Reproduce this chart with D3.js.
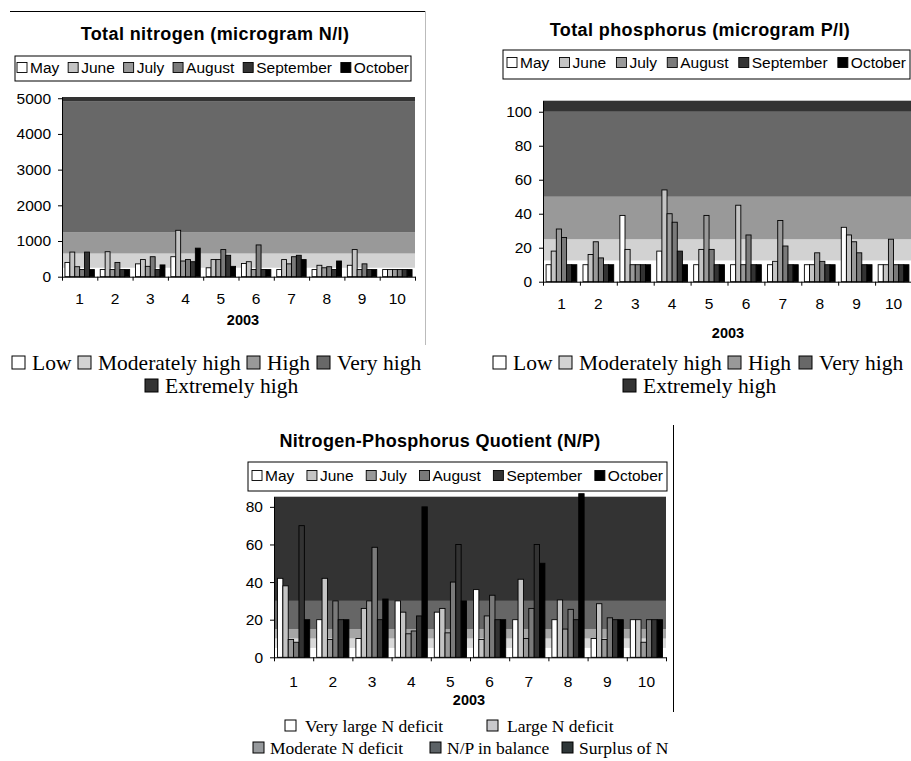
<!DOCTYPE html>
<html><head><meta charset="utf-8">
<script src="https://cdn.jsdelivr.net/npm/d3@7"></script>
<style>body{margin:0;background:#fff;}svg{display:block;}</style>
</head><body>
<script>
// ---------- DATA ----------
const stations = ["1","2","3","4","5","6","7","8","9","10"];
const months = ["May","June","July","August","September","October"];
const monthColors = ["#ffffff","#c4c4c4","#999999","#7a7a7a","#333333","#000000"];
const xTitle = "2003";

// Total nitrogen (microgram N/l)
const nMay  = [400,200,360,560,250,370,200,200,320,200];
const nJune = [690,700,480,1300,480,420,480,320,760,200];
const nJuly = [280,200,290,440,480,200,360,250,200,200];
const nAug  = [200,400,560,480,760,890,560,280,360,200];
const nSep  = [690,200,200,420,600,200,600,200,200,200];
const nOct  = [200,200,330,800,290,200,480,440,200,200];
const nTicks = [0,1000,2000,3000,4000,5000];
const nBandLimits = [250,650,1250,4920,5035];
const nBandNames = ["Low","Moderately high","High","Very high","Extremely high"];

// Total phosphorus (microgram P/l)
const pMay  = [10,10,39,18,10,10,10,10,32,10];
const pJune = [18,16,19,54,19,45,12,10,27.5,10];
const pJuly = [31,23.5,10,40,39,10,36,17,23.5,25];
const pAug  = [26,14,10,35,19,27.5,21,12,17,10];
const pSep  = [10,10,10,18,10,10,10,10,10,10];
const pOct  = [10,10,10,10,10,10,10,10,10,10];
const pTicks = [0,20,40,60,80,100];
const pBandLimits = [12.5,25,50,100,106.5];
const pBandNames = ["Low","Moderately high","High","Very high","Extremely high"];

// Nitrogen-Phosphorus Quotient (N/P)
const qMay  = [42,20,10,30,24,36,20,20,10,20];
const qJune = [38,42,26,24,26,9.5,41.5,30.5,28.5,20];
const qJuly = [9.5,9.5,30,12.5,13,22,10,15,9.5,8];
const qAug  = [8,30,58.5,14,40,33,26,25.5,21,20];
const qSep  = [70,20,20,22,60,20,60,20,20,20];
const qOct  = [20,20,31,80,30,20,50,87,20,20];
const qTicks = [0,20,40,60,80];
const qBandLimits = [5,10,15,30,85.4];
const qBandNames = ["Very large N deficit","Large N deficit","Moderate N deficit","N/P in balance","Surplus of N"];

const bandColors = ["#ffffff","#d2d2d2","#999999","#686868","#333333"];
const qBandColors = ["#ffffff","#d9d9d9","#a6a6a6","#666666","#333333"];
const qLegendColors = ["#ffffff","#c8c8cc","#96999c","#5c6266","#2e3638"];

// ---------- DRAW ----------
const SANS = "'Liberation Sans', Arial, sans-serif";
const SERIF = "'Liberation Serif', 'Times New Roman', serif";
const svg = d3.select("body").append("svg").attr("width",911).attr("height",761);

function table(arrs){ return stations.map((s,i)=>({station:s, values: months.map((m,j)=>({month:m, idx:j, v:arrs[j][i]}))})); }

function drawChart(c){
  const g = svg.append("g");
  const x0 = d3.scaleBand().domain(stations).range([c.px0,c.px1]).padding(0);
  const x1 = d3.scaleBand().domain(months).range([0,x0.step()]).paddingInner(0).paddingOuter(c.outer);
  const y = d3.scaleLinear().domain([0,c.max]).range([c.py1,c.py0]);
  // bands
  let lo = 0;
  c.bands.forEach((hi,i)=>{
    g.append("rect").attr("x",c.px0).attr("width",c.px1-c.px0)
      .attr("y",y(hi)).attr("height",y(lo)-y(hi)).attr("fill",c.bandColors[i]);
    lo = hi;
  });
  // bars
  const data = table(c.series);
  g.selectAll("g.grp").data(data).join("g").attr("class","grp")
    .attr("transform",d=>`translate(${x0(d.station)},0)`)
    .selectAll("rect").data(d=>d.values).join("rect")
    .attr("x",d=>x1(d.month)).attr("width",x1.bandwidth())
    .attr("y",d=>y(d.v)).attr("height",d=>y(0)-y(d.v))
    .attr("fill",d=>monthColors[d.idx]).attr("stroke","#000").attr("stroke-width",0.9);
  // y axis
  const ya = g.append("g").attr("transform",`translate(${c.px0},0)`)
    .call(d3.axisLeft(y).tickValues(c.ticks).tickFormat(d3.format("d")).tickSize(4).tickSizeOuter(0).tickPadding(c.tickPad));
  ya.select(".domain").attr("stroke","#000");
  ya.selectAll("text").attr("font-family",SANS).attr("font-size",c.tickFont).attr("fill","#000");
  // x axis
  const xl = d3.scaleLinear().domain([0,stations.length]).range([c.px0,c.px1]);
  const xa = g.append("g").attr("transform",`translate(0,${c.py1})`)
    .call(d3.axisBottom(xl).tickValues(d3.range(stations.length+1)).tickFormat("").tickSize(4).tickSizeOuter(0));
  xa.select(".domain").attr("stroke","#000");
  g.selectAll("text.xl").data(stations).join("text").attr("class","xl")
    .attr("x",d=>x0(d)+x0.step()/2).attr("y",c.xLabelY).attr("text-anchor","middle")
    .attr("font-family",SANS).attr("font-size",c.tickFont).text(d=>d);
  g.append("text").attr("x",c.yearX).attr("y",c.yearY).attr("text-anchor","middle")
    .attr("font-family",SANS).attr("font-weight","bold").attr("font-size",14.5).text(xTitle);
  // title
  g.append("text").attr("x",c.titleX).attr("y",c.titleY).attr("text-anchor","middle")
    .attr("font-family",SANS).attr("font-weight","bold").attr("font-size",c.titleFont)
    .attr("letter-spacing",c.titleLS).text(c.title);
  // month legend
  const [bx0,by0,bx1,by1] = c.legBox;
  g.append("rect").attr("x",bx0).attr("y",by0).attr("width",bx1-bx0).attr("height",by1-by0)
    .attr("fill","#fff").attr("stroke","#000").attr("stroke-width",1);
  const items = g.selectAll("g.li").data(months).join("g").attr("class","li");
  items.append("rect").attr("width",10).attr("height",10).attr("y",c.legBase-10.5)
    .attr("fill",(d,i)=>monthColors[i]).attr("stroke","#000").attr("stroke-width",0.9);
  items.append("text").attr("x",13).attr("y",c.legBase).attr("font-family",SANS)
    .attr("font-size",c.legFont).text(d=>d);
  const widths = [];
  items.each(function(){ widths.push(13+d3.select(this).select("text").node().getComputedTextLength()); });
  const total = d3.sum(widths);
  const gap = (bx1-bx0-c.legPad*2-total)/(months.length-1);
  let cx = bx0+c.legPad;
  items.attr("transform",(d,i)=>{ const t=`translate(${cx},0)`; cx += widths[i]+gap; return t; });
  return g;
}

function serifLegend(rows, names, colors, font, box){
  rows.forEach(r=>{
    r.items.forEach(([idx,x])=>{
      svg.append("rect").attr("x",x).attr("y",r.base-box-1).attr("width",box).attr("height",box)
        .attr("fill",colors[idx]).attr("stroke","#000").attr("stroke-width",1);
      svg.append("text").attr("x",x+box+r.gap).attr("y",r.base).attr("font-family",SERIF)
        .attr("font-size",font).text(names[idx]);
    });
  });
}

// frame lines of chart 1 and 3
svg.append("line").attr("x1",10).attr("x2",426).attr("y1",11.5).attr("y2",11.5).attr("stroke","#000");
svg.append("line").attr("x1",425.5).attr("x2",425.5).attr("y1",11).attr("y2",345).attr("stroke","#bbb");
svg.append("line").attr("x1",673.5).attr("x2",673.5).attr("y1",425).attr("y2",712).attr("stroke","#000");

drawChart({title:"Total nitrogen (microgram N/l)", titleX:215, titleY:40, titleFont:18, titleLS:0.4,
  px0:62, px1:415, py0:97, py1:276.7, max:5035, ticks:nTicks, bands:nBandLimits, bandColors:bandColors,
  series:[nMay,nJune,nJuly,nAug,nSep,nOct], outer:0.6, tickFont:15.5, tickPad:7,
  xLabelY:304, yearX:243, yearY:325, legBox:[15,56,411,81], legBase:73, legFont:15.5, legPad:2});

drawChart({title:"Total phosphorus (microgram P/l)", titleX:700, titleY:36, titleFont:18, titleLS:0.4,
  px0:543, px1:912, py0:100.7, py1:281.7, max:106.5, ticks:pTicks, bands:pBandLimits, bandColors:bandColors,
  series:[pMay,pJune,pJuly,pAug,pSep,pOct], outer:0.6, tickFont:15.5, tickPad:7,
  xLabelY:309, yearX:728, yearY:338, legBox:[503,50,910,79], legBase:68, legFont:15.5, legPad:4});

drawChart({title:"Nitrogen-Phosphorus Quotient (N/P)", titleX:440, titleY:447, titleFont:18, titleLS:0.3,
  px0:274, px1:666, py0:496.7, py1:657.3, max:85.4, ticks:qTicks, bands:qBandLimits, bandColors:qBandColors,
  series:[qMay,qJune,qJuly,qAug,qSep,qOct], outer:0.65, tickFont:15.5, tickPad:7,
  xLabelY:686.5, yearX:469, yearY:705, legBox:[248,462,667,491], legBase:481, legFont:15.5, legPad:4});

// bottom legends
serifLegend([{base:370, gap:7, items:[[0,12],[1,78],[2,247],[3,317]]},{base:393, gap:7, items:[[4,145]]}],
  nBandNames, bandColors, 21.5, 13);
serifLegend([{base:370, gap:7, items:[[0,493],[1,559],[2,728],[3,799]]},{base:393, gap:7, items:[[4,623]]}],
  pBandNames, bandColors, 21.5, 13);
serifLegend([{base:732, gap:9, items:[[0,285],[1,487]]},{base:754, gap:6, items:[[2,253],[3,430],[4,562]]}],
  qBandNames, qLegendColors, 17.5, 11);
</script>
</body></html>
